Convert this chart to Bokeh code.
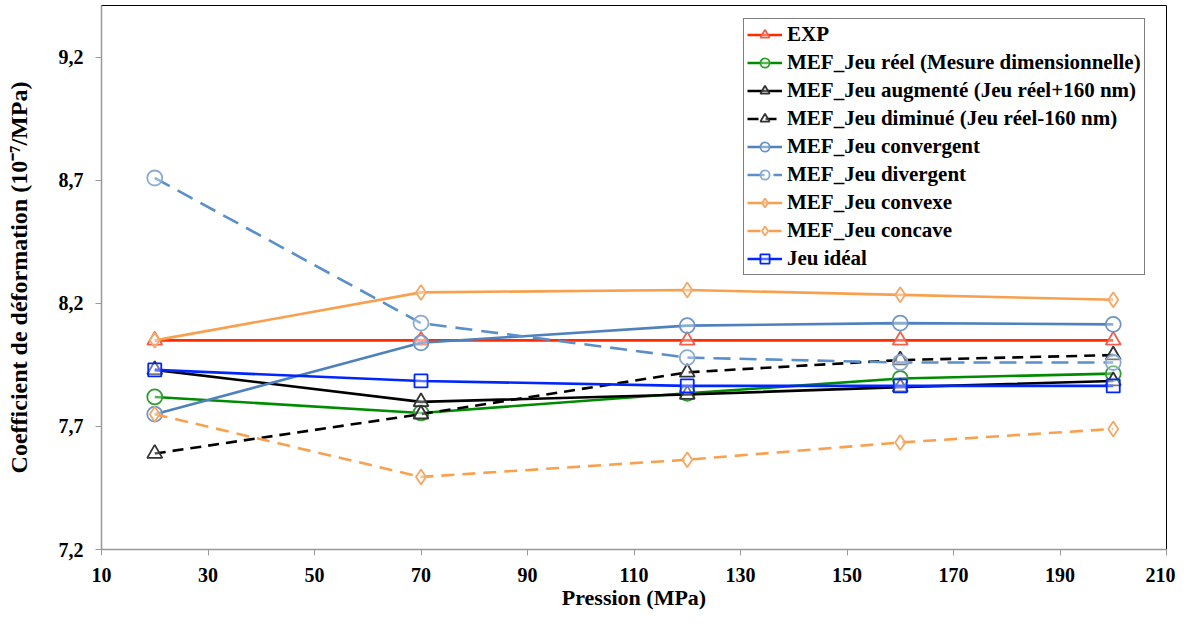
from bokeh.plotting import figure
from bokeh.models import Legend, LegendItem, FixedTicker, CustomJSTickFormatter, Range1d
from bokeh.embed import file_html
from bokeh.resources import INLINE

pression = [20, 70, 120, 160, 200]
exp = [8.05, 8.05, 8.05, 8.05, 8.05]
jeu_reel = [7.82, 7.755, 7.835, 7.895, 7.915]
jeu_augmente = [7.93, 7.80, 7.83, 7.86, 7.885]
jeu_diminue = [7.59, 7.75, 7.92, 7.97, 7.99]
jeu_convergent = [7.75, 8.04, 8.11, 8.12, 8.115]
jeu_divergent = [8.71, 8.12, 7.98, 7.96, 7.96]
jeu_convexe = [8.05, 8.245, 8.255, 8.235, 8.215]
jeu_concave = [7.75, 7.495, 7.565, 7.635, 7.69]
jeu_ideal = [7.93, 7.885, 7.865, 7.865, 7.865]

x_ticks = [10, 30, 50, 70, 90, 110, 130, 150, 170, 190, 210]
y_ticks = [7.2, 7.7, 8.2, 8.7, 9.2]

series = [
    ("EXP", exp, "#FF2A00", "#F0604C", "triangle", None),
    ("MEF_Jeu réel (Mesure dimensionnelle)", jeu_reel, "#008C00", "#2E9E2E", "circle", None),
    ("MEF_Jeu augmenté (Jeu réel+160 nm)", jeu_augmente, "#000000", "#333333", "triangle", None),
    ("MEF_Jeu diminué (Jeu réel-160 nm)", jeu_diminue, "#000000", "#333333", "triangle", "11 7"),
    ("MEF_Jeu convergent", jeu_convergent, "#4F81BD", "#6F95C4", "circle", None),
    ("MEF_Jeu divergent", jeu_divergent, "#5B8FCB", "#8AAAD2", "circle", "17 9"),
    ("MEF_Jeu convexe", jeu_convexe, "#F9A04E", "#F5A765", "diamond", None),
    ("MEF_Jeu concave", jeu_concave, "#F9A04E", "#F5A765", "diamond", "13 8"),
    ("Jeu idéal", jeu_ideal, "#0026FF", "#0026FF", "square", None),
]

FONT = "Liberation Serif"

p = figure(width=1175, height=617, output_backend="svg", toolbar_location=None,
           x_range=Range1d(10, 210), y_range=Range1d(7.2, 9.411),
           min_border_left=101, min_border_right=9, min_border_top=5, min_border_bottom=68)
p.background_fill_color = "white"
p.border_fill_color = "white"
p.outline_line_color = "#000000"
p.outline_line_width = 1
p.xgrid.visible = False
p.ygrid.visible = False

items = []
for label, vals, lc, mc, marker, dash in series:
    lr = p.line(pression, vals, line_color=lc, line_width=2.6,
                line_dash=dash if dash else "solid")
    size = 13 if marker == "square" else 15
    sr = p.scatter(pression, vals, marker=marker, size=size, line_color=mc,
                   line_width=1.8, fill_color="white", fill_alpha=0.35)
    items.append(LegendItem(label=label, renderers=[lr, sr]))

legend = Legend(items=items, location=(642, 274), orientation="vertical")
legend.label_text_font = FONT
legend.label_text_font_style = "bold"
legend.label_text_font_size = "21px"
legend.label_text_color = "#000000"
legend.glyph_width = 35
legend.glyph_height = 23
legend.label_height = 23
legend.spacing = 3
legend.padding = 3
legend.margin = 0
legend.label_standoff = 5
legend.border_line_color = "#000000"
legend.border_line_width = 1
legend.background_fill_alpha = 1
p.add_layout(legend)

for ax in (p.xaxis[0], p.yaxis[0]):
    ax.axis_line_color = "#999999"
    ax.axis_line_width = 1.5
    ax.major_tick_line_color = "#999999"
    ax.major_tick_out = 6
    ax.major_tick_in = 0
    ax.minor_tick_line_color = None
    ax.major_label_text_font = FONT
    ax.major_label_text_font_style = "bold"
    ax.major_label_text_font_size = "20px"
    ax.major_label_text_color = "#000000"
    ax.axis_label_text_font = FONT
    ax.axis_label_text_font_style = "bold"
    ax.axis_label_text_color = "#000000"

p.xaxis.axis_label_text_font_size = "22px"
p.yaxis.axis_label_text_font_size = "24px"
p.xaxis.ticker = FixedTicker(ticks=x_ticks)
p.yaxis.ticker = FixedTicker(ticks=y_ticks)
p.yaxis.formatter = CustomJSTickFormatter(code="return tick.toFixed(1).replace('.', ',');")
p.xaxis.axis_label = "Pression (MPa)"
p.yaxis.axis_label = "Coefficient de déformation (10⁻⁷/MPa)"
p.xaxis.major_label_standoff = 12
p.yaxis.major_label_standoff = 12
p.xaxis.axis_label_standoff = 0
p.yaxis.axis_label_standoff = 24

open("out.html", "w").write(file_html(p, INLINE))
